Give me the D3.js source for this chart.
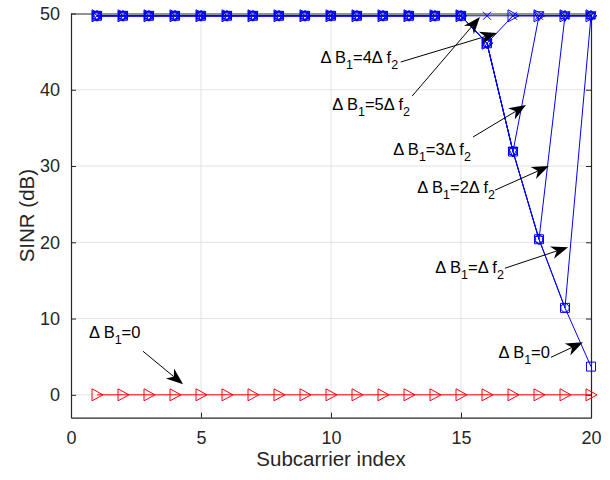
<!DOCTYPE html>
<html>
<head>
<meta charset="utf-8">
<script src="https://cdn.jsdelivr.net/npm/d3@7"></script>
<style>
  html, body { margin: 0; padding: 0; background: #fff; }
  svg { display: block; font-family: "Liberation Sans", Arial, Helvetica, sans-serif; }
</style>
</head>
<body>
<svg id="chart" width="610" height="480"></svg>
<script>
// Subcarrier indices
const subcarriers = d3.range(1, 21);

// SINR (dB) per subcarrier for each frequency offset ΔB1
const sinrDB0   = [49.7,49.7,49.7,49.7,49.7,49.7,49.7,49.7,49.7,49.7,49.7,49.7,49.7,49.7,49.7,46.1,31.9,20.4,11.4,3.7];
const sinrDB1   = [49.7,49.7,49.7,49.7,49.7,49.7,49.7,49.7,49.7,49.7,49.7,49.7,49.7,49.7,49.7,46.1,31.9,20.4,11.4,49.7];
const sinrDB2   = [49.7,49.7,49.7,49.7,49.7,49.7,49.7,49.7,49.7,49.7,49.7,49.7,49.7,49.7,49.7,46.1,31.9,20.4,49.7,49.7];
const sinrDB3   = [49.7,49.7,49.7,49.7,49.7,49.7,49.7,49.7,49.7,49.7,49.7,49.7,49.7,49.7,49.7,46.1,31.9,49.7,49.7,49.7];
const sinrDB4   = [49.7,49.7,49.7,49.7,49.7,49.7,49.7,49.7,49.7,49.7,49.7,49.7,49.7,49.7,49.7,46.1,49.7,49.7,49.7,49.7];
const sinrDB5   = [49.7,49.7,49.7,49.7,49.7,49.7,49.7,49.7,49.7,49.7,49.7,49.7,49.7,49.7,49.7,49.7,49.7,49.7,49.7,49.7];
// Reference case without offset compensation
const sinrNoComp = [0,0,0,0,0,0,0,0,0,0,0,0,0,0,0,0,0,0,0,0];

const xTicks = [0, 5, 10, 15, 20];
const yTicks = [0, 10, 20, 30, 40, 50];

const series = [
  { values: sinrNoComp, color: "#ff0000", marker: "triRight" },
  { values: sinrDB5, color: "#0000ff", marker: "cross" },
  { values: sinrDB4, color: "#0000ff", marker: "triRight" },
  { values: sinrDB3, color: "#0000ff", marker: "triDown" },
  { values: sinrDB2, color: "#0000ff", marker: "hexagram" },
  { values: sinrDB1, color: "#0000ff", marker: "circle" },
  { values: sinrDB0, color: "#0000ff", marker: "square" }
];

// Callouts: label text parts, label anchor, arrow tail and arrow tip (data units)
const annotations = [
  { k: "4Δ f", sub2: true, anchor: "end",   lx: 12.58, ly: 43.5,  x0: 12.68, y0: 43.64, x1: 16.38, y1: 47.44 },
  { k: "5Δ f", sub2: true, anchor: "end",   lx: 13.04, ly: 37.34, x0: 13.12, y0: 39.17, x1: 15.73, y1: 49.54 },
  { k: "3Δ f", sub2: true, anchor: "end",   lx: 15.38, ly: 31.43, x0: 15.46, y0: 33.8,  x1: 17.5,  y1: 37.99 },
  { k: "2Δ f", sub2: true, anchor: "end",   lx: 16.31, ly: 26.44, x0: 16.31, y0: 26.84, x1: 18.38, y1: 29.99 },
  { k: "Δ f",  sub2: true, anchor: "end",   lx: 16.65, ly: 15.94, x0: 16.69, y0: 16.6,  x1: 19.12, y1: 19.36 },
  { k: "0",    sub2: false, anchor: "end",  lx: 18.42, ly: 4.79,  x0: 18.46, y0: 4.92,  x1: 19.69, y1: 6.89 },
  { k: "0",    sub2: false, anchor: "start", lx: 0.69, ly: 7.41,  x0: 2.77,  y0: 5.71,  x1: 4.31,  y1: 1.38 }
];

const svg = d3.select("#chart");
const padL = 71, padR = 591, padT = 13.5, padB = 417.7;
const axisColor = "#262626";

const x = d3.scaleLinear().domain([0, 20]).range([padL, padR]);
const y = d3.scaleLinear().domain([-3, 50]).range([padB, padT]);

// Grid
const grid = svg.append("g");
grid.selectAll(".gx").data(xTicks.filter(t => t > 0 && t < 20)).join("line")
  .attr("x1", d => x(d)).attr("x2", d => x(d)).attr("y1", padT).attr("y2", padB)
  .attr("stroke", "#e3e3e3").attr("stroke-width", 1);
grid.selectAll(".gy").data(yTicks.filter(t => t < 50)).join("line")
  .attr("x1", padL).attr("x2", padR).attr("y1", d => y(d)).attr("y2", d => y(d))
  .attr("stroke", "#e3e3e3").attr("stroke-width", 1);

// Axes (ticks pointing inward, mirrored on the box)
const tickLen = 5;
const gxB = svg.append("g").attr("transform", `translate(0,${padB})`)
  .call(d3.axisBottom(x).tickValues(xTicks).tickSizeInner(-tickLen).tickSizeOuter(0).tickPadding(14));
const gxT = svg.append("g").attr("transform", `translate(0,${padT})`)
  .call(d3.axisTop(x).tickValues(xTicks).tickSizeInner(-tickLen).tickSizeOuter(0).tickFormat(""));
const gyL = svg.append("g").attr("transform", `translate(${padL},0)`)
  .call(d3.axisLeft(y).tickValues(yTicks).tickSizeInner(-tickLen).tickSizeOuter(0).tickPadding(11));
const gyR = svg.append("g").attr("transform", `translate(${padR},0)`)
  .call(d3.axisRight(y).tickValues(yTicks).tickSizeInner(-tickLen).tickSizeOuter(0).tickFormat(""));
[gxB, gxT, gyL, gyR].forEach(g => {
  g.select(".domain").attr("stroke", axisColor).attr("stroke-width", 1.2);
  g.selectAll(".tick line").attr("stroke", axisColor);
  g.selectAll(".tick text").attr("fill", axisColor).style("font-size", "18px")
    .style("font-family", "'Liberation Sans', Arial, sans-serif");
});

// Axis titles
svg.append("text").attr("x", (padL + padR) / 2).attr("y", 466)
  .attr("text-anchor", "middle").attr("fill", axisColor).style("font-size", "20.5px")
  .text("Subcarrier index");
svg.append("text").attr("transform", `translate(34,${(padT + padB) / 2}) rotate(-90)`)
  .attr("text-anchor", "middle").attr("fill", axisColor).style("font-size", "20.5px")
  .text("SINR (dB)");

// Marker shapes
function markerPath(type) {
  const s = 4.5;
  switch (type) {
    case "square": return `M${-s},${-s}H${s}V${s}H${-s}Z`;
    case "circle": return d3.symbol(d3.symbolCircle, Math.PI * 4.2 * 4.2)();
    case "triRight": return `M${-5},${-6}L${6},0L${-5},${6}Z`;
    case "triDown": return `M${-5},${-4}L${5},${-4}L0,${5}Z`;
    case "cross": return `M-4,-4L4,4M-4,4L4,-4`;
    case "hexagram": {
      const pts = [];
      for (let i = 0; i < 12; i++) {
        const r = i % 2 === 0 ? 5.5 : 3.2;
        const a = Math.PI / 2 + i * Math.PI / 6;
        pts.push([r * Math.cos(a), -r * Math.sin(a)]);
      }
      return "M" + pts.map(p => p.join(",")).join("L") + "Z";
    }
  }
}

const line = d3.line().x((d, i) => x(subcarriers[i])).y(d => y(d));
const plot = svg.append("g");
series.forEach(s => {
  const g = plot.append("g");
  g.append("path").datum(s.values).attr("d", line)
    .attr("fill", "none").attr("stroke", s.color).attr("stroke-width", 1);
  g.selectAll("path.m").data(s.values).join("path").attr("class", "m")
    .attr("transform", (d, i) => `translate(${x(subcarriers[i])},${y(d)})`)
    .attr("d", markerPath(s.marker))
    .attr("fill", "none").attr("stroke", s.color).attr("stroke-width", 1);
});

// Callouts
const ann = svg.append("g");
annotations.forEach(a => {
  const t = ann.append("text").attr("x", x(a.lx)).attr("y", y(a.ly))
    .attr("text-anchor", a.anchor).attr("fill", "#000").style("font-size", "16.5px");
  t.append("tspan").text("Δ B");
  t.append("tspan").attr("dy", 6).style("font-size", "12.5px").text("1");
  t.append("tspan").attr("dy", -6).text("=" + a.k);
  if (a.sub2) t.append("tspan").attr("dy", 6).style("font-size", "12.5px").text("2");

  const px0 = x(a.x0), py0 = y(a.y0), px1 = x(a.x1), py1 = y(a.y1);
  const ang = Math.atan2(py1 - py0, px1 - px0);
  const L = 17, W = 6.5, notch = 12;
  const ux = Math.cos(ang), uy = Math.sin(ang), nx = -uy, ny = ux;
  ann.append("line").attr("x1", px0).attr("y1", py0)
    .attr("x2", px1 - ux * notch).attr("y2", py1 - uy * notch)
    .attr("stroke", "#000").attr("stroke-width", 1);
  const bx = px1 - ux * L, by = py1 - uy * L;
  const cx = px1 - ux * notch, cy = py1 - uy * notch;
  ann.append("path")
    .attr("d", `M${px1},${py1}L${bx + nx * W},${by + ny * W}L${cx},${cy}L${bx - nx * W},${by - ny * W}Z`)
    .attr("fill", "#000");
});
</script>
</body>
</html>
